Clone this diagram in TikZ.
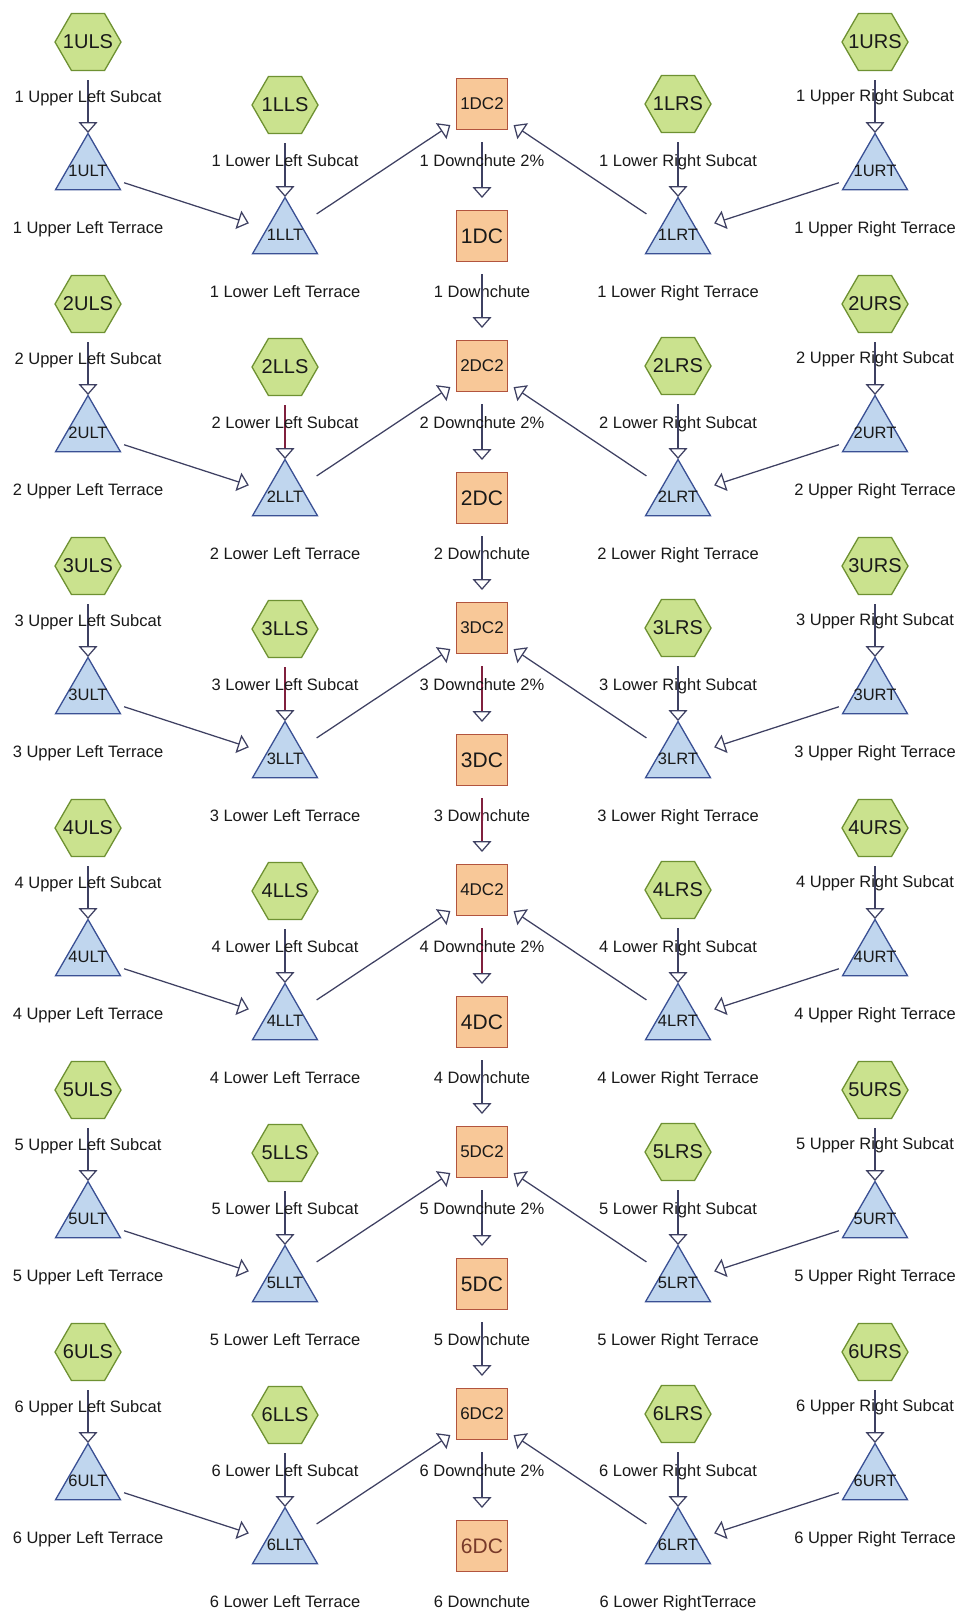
\documentclass[tikz,border=0pt]{standalone}
\usepackage{fontspec}
\setmainfont{Liberation Sans}
\usetikzlibrary{shapes.geometric,arrows.meta}
\definecolor{hexfill}{RGB}{202,226,142}
\definecolor{hexdraw}{RGB}{110,145,50}
\definecolor{trifill}{RGB}{192,214,238}
\definecolor{tridraw}{RGB}{58,80,148}
\definecolor{sqfill}{RGB}{248,200,152}
\definecolor{sqdraw}{RGB}{178,84,62}
\definecolor{arrowc}{RGB}{62,64,98}
\definecolor{maroonc}{RGB}{128,32,62}
\definecolor{textc}{RGB}{25,25,25}
\definecolor{dctext}{RGB}{120,58,42}
\tikzset{
 hexnode/.style={regular polygon, regular polygon sides=6, minimum size=66pt, inner sep=0pt,
   fill=hexfill, draw=hexdraw, line width=1.3pt, font=\fontsize{20}{21}\selectfont, text=textc},
 trinode/.style={regular polygon, regular polygon sides=3, minimum size=75pt, inner sep=0pt,
   fill=trifill, draw=tridraw, line width=1.3pt, font=\fontsize{16.5}{17}\selectfont, text=textc},
 sqnode/.style={rectangle, minimum width=51pt, minimum height=51pt, inner sep=0pt,
   fill=sqfill, draw=sqdraw, line width=1.3pt, text=textc},
 lbl/.style={anchor=base, inner sep=0pt, font=\fontsize{16.5}{18}\selectfont, text=textc},
 arr/.style={line width=1.25pt, draw=arrowc,
   -{Triangle[open, length=11pt, width=19pt, color=arrowc]},
   shorten >=38pt, shorten <=38pt},
}
\begin{document}
\begin{tikzpicture}[x=1pt,y=-1pt]
\useasboundingbox (0,0) rectangle (964,1618);
\fill[white] (0,0) rectangle (964,1618);
\foreach \k in {1,...,6}{
  \pgfmathsetmacro\dy{(\k-1)*262}
  \ifnum\k=2 \def\ca{maroonc}\else\ifnum\k=3 \def\ca{maroonc}\else\def\ca{arrowc}\fi\fi
  \ifnum\k=3 \def\cb{maroonc}\else\ifnum\k=4 \def\cb{maroonc}\else\def\cb{arrowc}\fi\fi
  % nodes
  \node[hexnode] (ULS\k) at (88,{42+\dy}) {\makebox[0pt]{\k ULS}};
  \node[trinode] (ULT\k) at (88,{171+\dy}) {\makebox[0pt]{\raisebox{-2pt}{\k ULT}}};
  \node[hexnode] (LLS\k) at (285,{105+\dy}) {\makebox[0pt]{\k LLS}};
  \node[trinode] (LLT\k) at (285,{235+\dy}) {\makebox[0pt]{\raisebox{-2pt}{\k LLT}}};
  \node[sqnode, font=\fontsize{17}{18}\selectfont] (DC2\k) at (482,{104+\dy}) {\k DC2};
  \ifnum\k=6
    \node[sqnode, font=\fontsize{21}{22}\selectfont, text=dctext] (DC\k) at (482,{236+\dy}) {\k DC};
  \else
    \node[sqnode, font=\fontsize{21}{22}\selectfont] (DC\k) at (482,{236+\dy}) {\k DC};
  \fi
  \node[hexnode] (LRS\k) at (678,{104+\dy}) {\makebox[0pt]{\k LRS}};
  \node[trinode] (LRT\k) at (678,{235+\dy}) {\makebox[0pt]{\raisebox{-2pt}{\k LRT}}};
  \node[hexnode] (URS\k) at (875,{42+\dy}) {\makebox[0pt]{\k URS}};
  \node[trinode] (URT\k) at (875,{171+\dy}) {\makebox[0pt]{\raisebox{-2pt}{\k URT}}};
  % connectors
  \draw[arr] (ULS\k.center) -- (ULT\k.center);
  \draw[arr] (ULT\k.center) -- (LLT\k.center);
  \draw[arr, draw=\ca] (LLS\k.center) -- (LLT\k.center);
  \draw[arr] (LLT\k.center) -- (DC2\k.center);
  \draw[arr, draw=\cb] (DC2\k.center) -- (DC\k.center);
  \draw[arr] (LRT\k.center) -- (DC2\k.center);
  \draw[arr] (LRS\k.center) -- (LRT\k.center);
  \draw[arr] (URS\k.center) -- (URT\k.center);
  \draw[arr] (URT\k.center) -- (LRT\k.center);
  % labels
  \node[lbl] (lULS\k) at (88,{102+\dy}) {\k\ Upper Left Subcat};
  \node[lbl] (lULT\k) at (88,{233+\dy}) {\k\ Upper Left Terrace};
  \node[lbl] (lLLS\k) at (285,{166+\dy}) {\k\ Lower Left Subcat};
  \node[lbl] (lLLT\k) at (285,{297+\dy}) {\k\ Lower Left Terrace};
  \node[lbl] (lDC2\k) at (482,{166+\dy}) {\k\ Downchute 2\%};
  \node[lbl] (lDC\k) at (482,{297+\dy}) {\k\ Downchute};
  \node[lbl] (lLRS\k) at (678,{166+\dy}) {\k\ Lower Right Subcat};
  \ifnum\k=6
    \node[lbl] (lLRT\k) at (678,{297+\dy}) {\k\ Lower RightTerrace};
  \else
    \node[lbl] (lLRT\k) at (678,{297+\dy}) {\k\ Lower Right Terrace};
  \fi
  \node[lbl] (lURS\k) at (875,{101+\dy}) {\k\ Upper Right Subcat};
  \node[lbl] (lURT\k) at (875,{233+\dy}) {\k\ Upper Right Terrace};
}
\foreach \k/\n in {1/2,2/3,3/4,4/5,5/6}{
  \ifnum\k=3 \def\cc{maroonc}\else\def\cc{arrowc}\fi
  \draw[arr, draw=\cc] (DC\k.center) -- (DC2\n.center);
}
\end{tikzpicture}
\end{document}
